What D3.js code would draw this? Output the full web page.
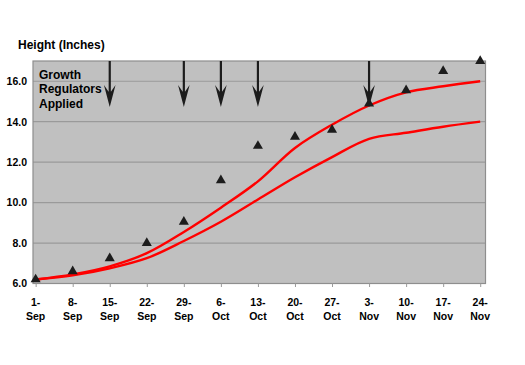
<!DOCTYPE html>
<html>
<head>
<meta charset="utf-8">
<script src="https://cdn.jsdelivr.net/npm/d3@7"></script>
<style>
  html, body { margin: 0; padding: 0; background: #fff; }
  svg { display: block; font-family: "Liberation Sans", Arial, sans-serif; font-weight: bold; }
</style>
</head>
<body>
<svg id="chart" width="525" height="365"></svg>
<script>
// ---- data ----
const days = [0, 7, 14, 21, 28, 35, 42, 49, 56, 63, 70, 77, 84];
const tickLine1 = ["1-", "8-", "15-", "22-", "29-", "6-", "13-", "20-", "27-", "3-", "10-", "17-", "24-"];
const tickLine2 = ["Sep", "Sep", "Sep", "Sep", "Sep", "Oct", "Oct", "Oct", "Oct", "Nov", "Nov", "Nov", "Nov"];
const observed = [6.2, 6.6, 7.25, 8.0, 9.05, 11.1, 12.8, 13.25, 13.6, 14.9, 15.55, 16.5, 17.0];
const upperCurve = [6.2, 6.45, 6.85, 7.5, 8.55, 9.75, 11.05, 12.7, 13.85, 14.8, 15.45, 15.75, 16.0];
const lowerCurve = [6.2, 6.4, 6.75, 7.25, 8.1, 9.05, 10.15, 11.25, 12.25, 13.15, 13.45, 13.75, 14.0];
const applicationDays = [14, 28, 35, 42, 63];
const yTicks = [6, 8, 10, 12, 14, 16];
const yTitle = "Height (Inches)";
const noteLines = ["Growth", "Regulators", "Applied"];

// ---- layout ----
const svg = d3.select("#chart");
const plot = { left: 33, right: 485.5, top: 61, bottom: 283.5 };

const x = d3.scaleLinear().domain([-0.5, 85]).range([plot.left, plot.right]);
const y = d3.scaleLinear().domain([6, 17]).range([plot.bottom, plot.top]);

// plot background
svg.append("rect")
  .attr("x", plot.left).attr("y", plot.top)
  .attr("width", plot.right - plot.left).attr("height", plot.bottom - plot.top)
  .attr("fill", "#c0c0c0");

// gridlines
svg.append("g").selectAll("line").data(yTicks.filter(d => d > 6)).join("line")
  .attr("x1", plot.left).attr("x2", plot.right)
  .attr("y1", d => y(d)).attr("y2", d => y(d))
  .attr("stroke", "#9a9a9a").attr("stroke-width", 1.2);

// frame
svg.append("rect")
  .attr("x", plot.left).attr("y", plot.top)
  .attr("width", plot.right - plot.left).attr("height", plot.bottom - plot.top)
  .attr("fill", "none").attr("stroke", "#8e8e8e").attr("stroke-width", 1.2);

// y axis labels
const yAxis = d3.axisLeft(y).tickValues(yTicks).tickFormat(d3.format(".1f")).tickSize(0).tickPadding(6);
const yg = svg.append("g").attr("transform", `translate(${plot.left},0)`).call(yAxis);
yg.select(".domain").remove();
yg.selectAll("text")
  .attr("font-family", "Liberation Sans, Arial, sans-serif")
  .attr("font-weight", "bold").attr("font-size", 10.5).attr("fill", "#000");

// x axis ticks + labels
const xAxis = d3.axisBottom(x).tickValues(days).tickSize(3.5).tickFormat("");
const xg = svg.append("g").attr("transform", `translate(0,${plot.bottom})`).call(xAxis);
xg.select(".domain").remove();
xg.selectAll("line").attr("stroke", "#9a9a9a");

const xl = svg.append("g").selectAll("text").data(days).join("text")
  .attr("x", d => x(d)).attr("text-anchor", "middle")
  .attr("font-size", 10.5).attr("fill", "#000");
xl.append("tspan").attr("x", d => x(d)).attr("y", 306).text((d, i) => tickLine1[i]);
xl.append("tspan").attr("x", d => x(d)).attr("y", 319.5).text((d, i) => tickLine2[i]);

// axis title
svg.append("text").attr("x", 18).attr("y", 48.5)
  .attr("font-size", 12).attr("fill", "#000").text(yTitle);

// note
svg.append("text").attr("font-size", 12).attr("fill", "#000")
  .selectAll("tspan").data(noteLines).join("tspan")
  .attr("x", 39).attr("y", (d, i) => 78.5 + i * 14.6).text(d => d);

// curves
const line = d3.line().x(d => x(d[0])).y(d => y(d[1])).curve(d3.curveCatmullRom.alpha(0.5));
[upperCurve, lowerCurve].forEach(series => {
  svg.append("path")
    .attr("d", line(days.map((d, i) => [d, series[i]])))
    .attr("fill", "none").attr("stroke", "#ff0000").attr("stroke-width", 2.4);
});

// observed triangles
svg.append("g").selectAll("path").data(days).join("path")
  .attr("transform", (d, i) => `translate(${x(d)},${y(observed[i])})`)
  .attr("d", d3.symbol(d3.symbolTriangle, 44))
  .attr("fill", "#1c1c1c");

// application arrows
const arrows = svg.append("g").selectAll("g").data(applicationDays).join("g")
  .attr("transform", d => `translate(${x(d)},0)`);
arrows.append("line")
  .attr("x1", 0).attr("x2", 0).attr("y1", plot.top).attr("y2", 98)
  .attr("stroke", "#1c1c1c").attr("stroke-width", 2.2);
arrows.append("path")
  .attr("d", "M0,107 L-5.8,85 L-1.3,91.5 L1.3,91.5 L5.8,85 Z")
  .attr("fill", "#1c1c1c");
</script>
</body>
</html>
